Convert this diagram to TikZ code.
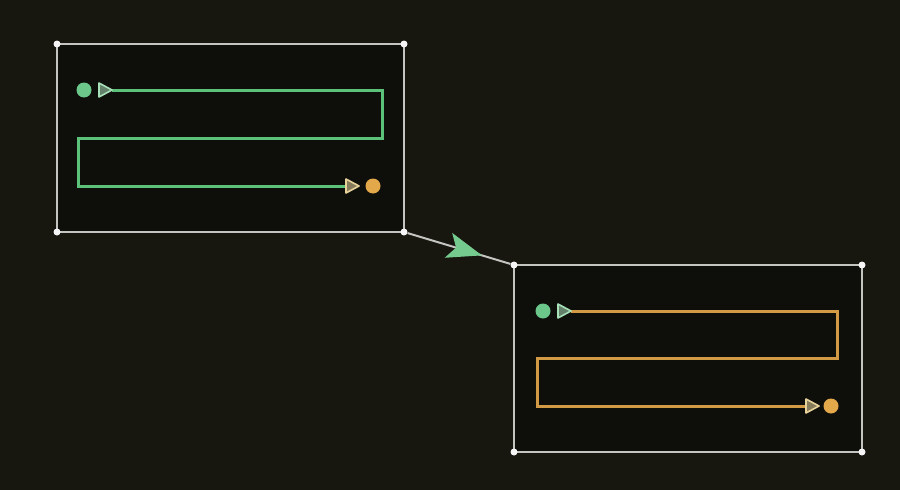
\documentclass[tikz,border=0pt]{standalone}
\usetikzlibrary{arrows.meta,decorations.markings}
\definecolor{bg}{HTML}{17160F}
\definecolor{frame}{HTML}{C4C4C0}
\definecolor{gpath}{HTML}{5CC27A}
\definecolor{opath}{HTML}{D39A45}
\definecolor{dotg}{HTML}{6CC88A}
\definecolor{doto}{HTML}{E3A84A}
\definecolor{trig}{HTML}{A8E0B8}
\definecolor{trio}{HTML}{E8D49A}
\definecolor{inner}{HTML}{0E0E0B}
\tikzset{
  x=1pt,y=-1pt,
  framebox/.style={draw=frame,line width=2pt,fill=inner},
  corner/.style={circle,fill=white!92!gray,inner sep=0pt,minimum size=7pt},
  gline/.style={draw=gpath,line width=3pt,line join=miter},
  oline/.style={draw=opath,line width=3pt,line join=miter},
  gdot/.style={circle,fill=dotg,inner sep=0pt,minimum size=15pt},
  odot/.style={circle,fill=doto,inner sep=0pt,minimum size=15pt},
  tri/.style={draw=#1,fill=#1!55!inner,line width=1.6pt,line join=round},
  link/.style={draw=frame,line width=2pt},
}
\begin{document}
\begin{tikzpicture}
\fill[bg] (0,0) rectangle (900,490);
\useasboundingbox (0,0) rectangle (900,490);
% box 1
\draw[framebox] (57,44) rectangle (404,232);
\foreach \p/\n in {{57,44}/a1,{404,44}/a2,{57,232}/a3,{404,232}/a4}
  \node[corner] (\n) at (\p) {};
% box 2
\draw[framebox] (514,265) rectangle (862,452);
\foreach \p/\n in {{514,265}/b1,{862,265}/b2,{514,452}/b3,{862,452}/b4}
  \node[corner] (\n) at (\p) {};
% connector
\draw[link] (a4) -- (b1);
\path (a4) -- (b1) node[pos=0.56,sloped,inner sep=0pt] (arr) {\tikz[x=1pt,y=1pt]\fill[gpath!85!white] (-17,13) -- (18,0) -- (-17,-13) -- (-9,0) -- cycle;};
% green path in box 1
\coordinate (g0) at (112,90);
\coordinate (g1) at (346,186);
\draw[gline] (g0) -- (382,90) -- (382,138) -- (78,138) -- (78,186) -- (g1);
\node[gdot] (gs) at (84,90) {};
\draw[tri=trig] (99,83) -- (112,90) -- (99,97) -- cycle;
\draw[tri=trio] (346,179) -- (359,186) -- (346,193) -- cycle;
\node[odot] (ge) at (373,186) {};
% orange path in box 2
\coordinate (o0) at (571,311);
\coordinate (o1) at (806,406);
\draw[oline] (o0) -- (837,311) -- (837,358) -- (537,358) -- (537,406) -- (o1);
\node[gdot] (os) at (543,311) {};
\draw[tri=trig] (558,304) -- (571,311) -- (558,318) -- cycle;
\draw[tri=trio] (806,399) -- (819,406) -- (806,413) -- cycle;
\node[odot] (oe) at (831,406) {};
\end{tikzpicture}
\end{document}
